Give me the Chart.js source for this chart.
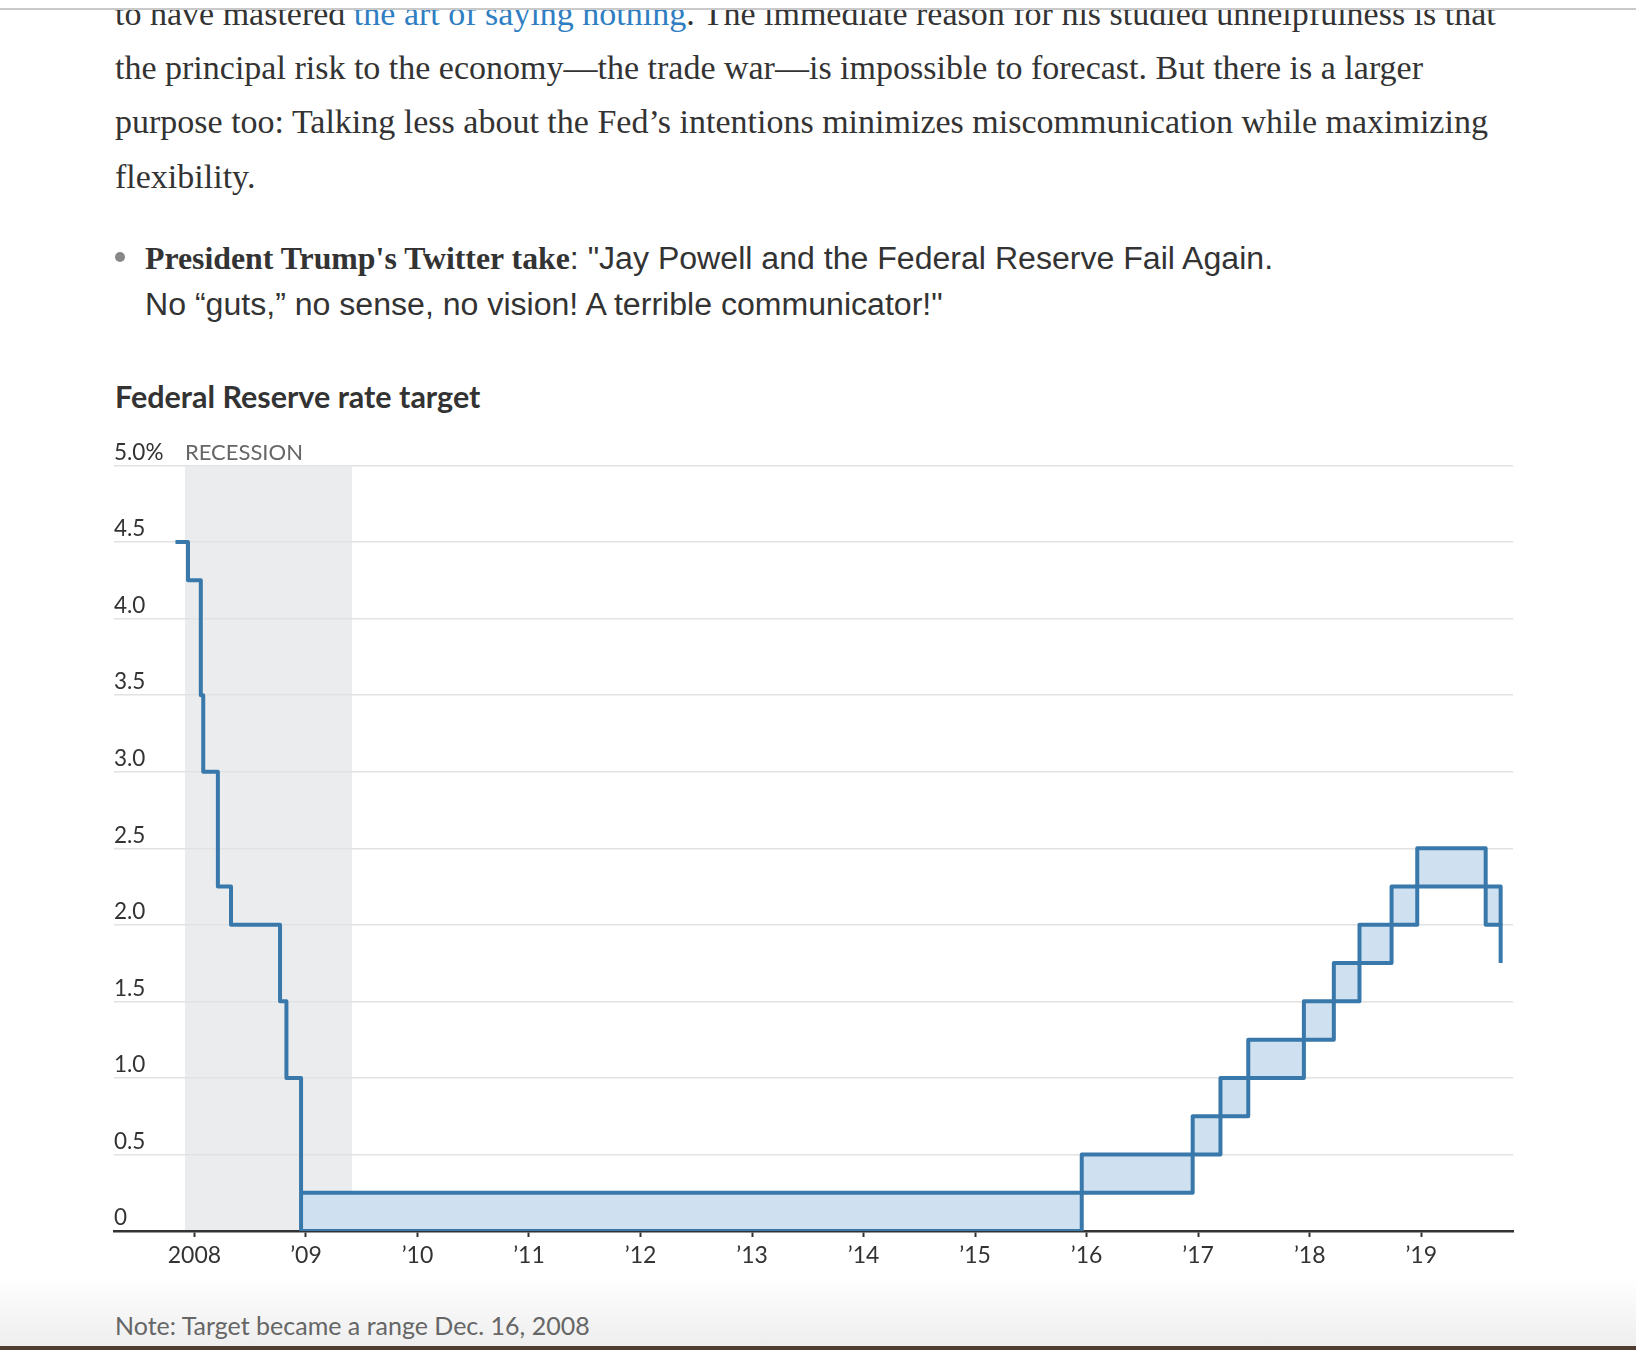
<!DOCTYPE html>
<html>
<head>
<meta charset="utf-8">
<script src="https://cdn.jsdelivr.net/npm/chart.js@4.4.1/dist/chart.umd.min.js"></script>
<style>
  body { margin: 0; width: 1636px; height: 1350px; background: #fff; position: relative; overflow: hidden; }
  .topcover { position: absolute; left: 0; top: 0; width: 1636px; height: 8px; background: #fff; z-index: 5; }
  .topline { position: absolute; left: 0; top: 8px; width: 1636px; height: 2px; background: #c9c9c9; z-index: 5; }
  .para { position: absolute; left: 115px; top: -13.5px; font-family: "Liberation Serif", serif; font-size: 34px; line-height: 54.4px; color: #333; white-space: nowrap; }
  .para a { color: #2f7ec2; text-decoration: none; }
  .bullet { position: absolute; left: 145px; top: 236px; font-family: "Liberation Sans", Arial, sans-serif; font-size: 32.1px; line-height: 44.7px; color: #333; white-space: nowrap; }
  .bullet b { font-family: "Liberation Serif", serif; font-size: 31.8px; }
  .dot { position: absolute; left: 115px; top: 252px; width: 10px; height: 10px; border-radius: 50%; background: #888; }
  .title { position: absolute; left: 115px; top: 381px; font-family: Lato, sans-serif; font-weight: bold; font-size: 30.5px; line-height: 30px; color: #333; white-space: nowrap; }
  .note { position: absolute; left: 115px; top: 1313px; font-family: Lato, sans-serif; font-size: 25px; line-height: 25px; color: #666; white-space: nowrap; z-index: 2; }
  .shade { position: absolute; left: 0; top: 1276px; width: 1636px; height: 70px; background: linear-gradient(#fff, #eeeeee); }
  .strip { position: absolute; left: 0; top: 1346px; width: 1636px; height: 4px; background: #4e3d30; }
  #chart { position: absolute; left: 0; top: 420px; }
</style>
</head>
<body>
<div class="topcover"></div>
<div class="topline"></div>
<div class="para">to have mastered <a>the art of saying nothing</a>. The immediate reason for his studied unhelpfulness is that<br>the principal risk to the economy—the trade war—is impossible to forecast. But there is a larger<br>purpose too: Talking less about the Fed’s intentions minimizes miscommunication while maximizing<br>flexibility.</div>
<div class="dot"></div>
<div class="bullet"><b>President Trump's Twitter take</b>: "Jay Powell and the Federal Reserve Fail Again.<br>No “guts,” no sense, no vision! A terrible communicator!"</div>
<div class="title">Federal Reserve rate target</div>
<div class="shade"></div>
<div class="strip"></div>
<canvas id="chart" width="1636" height="880"></canvas>
<div class="note">Note: Target became a range Dec. 16, 2008</div>
<script>
// single target rate, before it became a range
const targetDates = ['2007-10-31', '2007-12-11', '2008-01-22', '2008-01-30', '2008-03-18', '2008-04-30', '2008-10-08', '2008-10-29', '2008-12-16']
const targetRates = [4.5, 4.25, 3.5, 3.0, 2.25, 2.0, 1.5, 1.0, 0]

// target range from Dec. 16, 2008
const rangeDates = ['2008-12-16', '2015-12-16', '2016-12-14', '2017-03-15', '2017-06-14', '2017-12-13', '2018-03-21', '2018-06-13', '2018-09-26', '2018-12-19', '2019-07-31', '2019-09-18']
const rangeUpper = [0.25, 0.5, 0.75, 1.0, 1.25, 1.5, 1.75, 2.0, 2.25, 2.5, 2.25, 2.0]
const rangeLower = [0, 0.25, 0.5, 0.75, 1.0, 1.25, 1.5, 1.75, 2.0, 2.25, 2.0, 1.75]

const recession = ['2007-12-01', '2009-06-01']

const xTickLabels = ['2008', '’09', '’10', '’11', '’12', '’13', '’14', '’15', '’16', '’17', '’18', '’19']
const yTickLabels = ['0', '0.5', '1.0', '1.5', '2.0', '2.5', '3.0', '3.5', '4.0', '4.5', '5.0%']

const lineColor = '#3878aa'
const fillColor = '#cfe0f0'
const fontFamily = 'Lato, sans-serif'

function anoDecimal(texto) {
  let [a, m, d] = texto.split('-').map(Number)
  let inicio = Date.UTC(a, 0, 1)
  let fim = Date.UTC(a + 1, 0, 1)
  return a + (Date.UTC(a, m - 1, d) - inicio) / (fim - inicio)
}

function pontos(datas, valores) {
  return datas.map((d, i) => ({ x: anoDecimal(d), y: valores[i] }))
}

const recessao = {
  id: 'recessao',
  beforeDraw(chart) {
    const { ctx, scales: { x, y } } = chart
    let x0 = x.getPixelForValue(anoDecimal(recession[0]))
    let x1 = x.getPixelForValue(anoDecimal(recession[1]))
    let yTop = y.getPixelForValue(5)
    let yBot = y.getPixelForValue(0)
    ctx.save()
    ctx.fillStyle = '#ebecee'
    ctx.fillRect(x0, yTop + 1, x1 - x0, yBot - yTop - 1)
    ctx.fillStyle = '#666'
    ctx.font = '22px ' + fontFamily
    ctx.textBaseline = 'middle'
    ctx.textAlign = 'left'
    ctx.fillText('RECESSION', x0, yTop - 13)
    ctx.restore()
  }
}

const linha = {
  stepped: true,
  borderColor: lineColor,
  borderWidth: 4,
  borderJoinStyle: 'round',
  pointRadius: 0,
  pointHoverRadius: 0
}

// datasets are painted last-first, so the lower line carries the fill
const grafico = new Chart(document.getElementById('chart'), {
  type: 'line',
  data: {
    datasets: [
      { ...linha, label: 'Target', data: pontos(targetDates, targetRates), fill: false },
      { ...linha, label: 'Upper', data: pontos(rangeDates, rangeUpper), fill: false },
      { ...linha, label: 'Lower', data: pontos(rangeDates, rangeLower), fill: '-1', backgroundColor: fillColor }
    ]
  },
  options: {
    responsive: false,
    animation: false,
    events: [],
    layout: { padding: { left: 114, right: 123, top: 45.5, bottom: 19 } },
    plugins: { legend: { display: false }, tooltip: { enabled: false } },
    scales: {
      x: {
        type: 'linear',
        z: 1,
        min: 2007.279,
        max: 2019.823,
        afterFit: (s) => { s.height = 50 },
        grid: { drawOnChartArea: false, drawTicks: true, tickLength: 6, tickWidth: 2, tickColor: '#333' },
        border: { display: true, color: '#333', width: 2.5 },
        ticks: {
          stepSize: 1,
          includeBounds: false,
          autoSkip: false,
          maxRotation: 0,
          padding: 5,
          color: '#333',
          font: { family: fontFamily, size: 23 },
          callback: (v) => xTickLabels[Math.round(v) - 2008]
        }
      },
      y: {
        min: 0,
        max: 5,
        afterFit: (s) => { s.width = 0 },
        grid: { color: '#e2e2e2', lineWidth: 1.5, drawTicks: false },
        border: { display: false },
        ticks: {
          stepSize: 0.5,
          mirror: true,
          padding: 0,
          labelOffset: -13,
          color: '#333',
          font: { family: fontFamily, size: 22.5 },
          callback: (v) => yTickLabels[Math.round(v * 2)]
        }
      }
    }
  },
  plugins: [recessao]
})
</script>
</body>
</html>
